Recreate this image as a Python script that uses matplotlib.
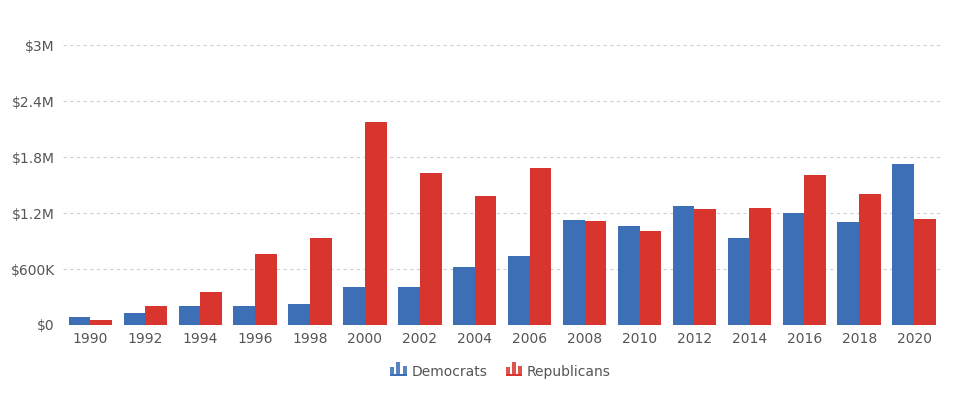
import matplotlib
matplotlib.use("Agg")

import matplotlib.pyplot as plt
import numpy as np
from matplotlib.patches import Rectangle
from matplotlib.legend_handler import HandlerBase
from matplotlib.ticker import FuncFormatter


# ---------- DATA ----------
years = ["1990", "1992", "1994", "1996", "1998", "2000", "2002", "2004",
         "2006", "2008", "2010", "2012", "2014", "2016", "2018", "2020"]
democrats = [82000, 125000, 200000, 200000, 221000, 407000, 407000, 625000,
             736000, 1121000, 1057000, 1271000, 928000, 1196000, 1100000, 1721000]
republicans = [57000, 200000, 357000, 757000, 929000, 2171000, 1625000, 1382000,
               1678000, 1111000, 1003000, 1239000, 1250000, 1603000, 1400000, 1132000]
y_ticks = [0, 600000, 1200000, 1800000, 2400000, 3000000]

# ---------- THEME ----------
BLUE = "#3d6fb6"
RED = "#d8352e"
TEXT = "#555555"
GRID = "#d0d0d0"


def money(v, pos=None):
    if v == 0:
        return "$0"
    if v >= 1000000:
        return "${:g}M".format(v / 1000000)
    return "${:g}K".format(v / 1000)


class BarIcon(HandlerBase):
    # little bar-chart glyph like the original legend
    def create_artists(self, legend, orig, xd, yd, w, h, fontsize, trans):
        color = orig.get_facecolor()
        bw = w / 4.0
        gap = (w - 3 * bw) / 2
        heights = [0.6, 1.0, 0.7]
        arts = []
        for k, hh in enumerate(heights):
            r = Rectangle((xd + k * (bw + gap), yd), bw, h * hh,
                          facecolor=color, edgecolor="none", alpha=0.85,
                          transform=trans)
            arts.append(r)
        arts.append(Rectangle((xd, yd - 0.8), w, 1.2,
                              facecolor=color, edgecolor="none", transform=trans))
        return arts


fig = plt.figure(figsize=(9.57, 3.99), dpi=100)
ax = fig.add_axes([0.0658, 0.1855, 0.918, 0.7015])

x = np.arange(len(years))
width = 0.395
b1 = ax.bar(x - width / 2, democrats, width, color=BLUE, label="Democrats", zorder=3)
b2 = ax.bar(x + width / 2, republicans, width, color=RED, label="Republicans", zorder=3)

ax.set_xlim(-0.5, len(years) - 0.5)
ax.set_ylim(0, 3000000)
ax.set_yticks(y_ticks)
ax.yaxis.set_major_formatter(FuncFormatter(money))
ax.set_xticks(x)
ax.set_xticklabels(years)

ax.grid(axis="y", color=GRID, linestyle=(0, (3, 3)), linewidth=0.8, zorder=0)
for s in ax.spines.values():
    s.set_visible(False)
ax.tick_params(length=0, colors=TEXT, labelsize=10)
ax.tick_params(axis="y", pad=6)
ax.tick_params(axis="x", pad=5)

leg = ax.legend(handles=[b1[0], b2[0]], labels=["Democrats", "Republicans"],
                handler_map={type(b1[0]): BarIcon()},
                loc="upper center", bbox_to_anchor=(0.498, -0.098), ncol=2,
                frameon=False, fontsize=10, handlelength=1.2, handleheight=1.0,
                handletextpad=0.35, columnspacing=1.3)
for t in leg.get_texts():
    t.set_color(TEXT)

fig.savefig("out.png", dpi=100)
